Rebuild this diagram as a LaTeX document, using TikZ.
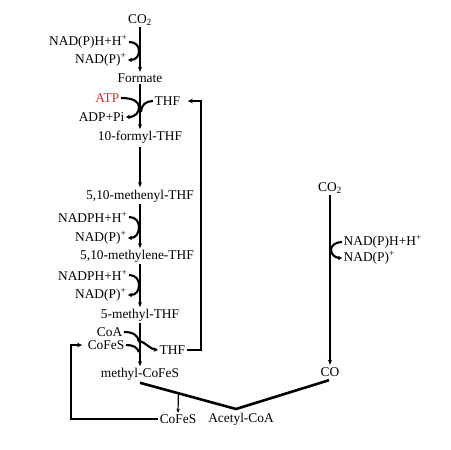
\documentclass[tikz,border=0pt]{standalone}
\usepackage{fontspec}
\setmainfont{Liberation Serif}
\usetikzlibrary{arrows.meta,calc}
\definecolor{atpred}{RGB}{220,40,40}
\begin{document}
\begin{tikzpicture}[x=1pt,y=-1pt,
  lbl/.style={inner sep=1.5pt,font=\fontsize{13.4}{15}\selectfont},
  axis/.style={line width=1.6pt,-{Stealth[length=5pt,width=4pt]}},
  side/.style={line width=2.1pt,-{Stealth[length=4pt,width=4.5pt]}},
  sidein/.style={line width=2.1pt},
  bracket/.style={line width=2.6pt,-{Stealth[length=5pt,width=4.5pt]}},
  thickline/.style={line width=2.6pt}]
\useasboundingbox (0,0) rectangle (451,450);
% left column
\node[lbl] (co2a) at (140,20) {CO\textsubscript{2}};
\node[lbl,anchor=east] (nadph1) at (129,42) {NAD(P)H+H\textsuperscript{+}};
\node[lbl,anchor=east] (nadp1) at (128,60) {NAD(P)\textsuperscript{+}};
\node[lbl] (formate) at (140,78) {Formate};
\node[lbl,anchor=east,text=atpred] (atp) at (121,98) {ATP};
\node[lbl,anchor=west] (thf1) at (153,101) {THF};
\node[lbl,anchor=east] (adp) at (126,117) {ADP+Pi};
\node[lbl] (formyl) at (140,137) {10-formyl-THF};
\node[lbl] (methenyl) at (140,196) {5,10-methenyl-THF};
\node[lbl,anchor=east] (nadph2) at (129,217) {NADPH+H\textsuperscript{+}};
\node[lbl,anchor=east] (nadp2) at (128,238) {NAD(P)\textsuperscript{+}};
\node[lbl] (methylene) at (137,256) {5,10-methylene-THF};
\node[lbl,anchor=east] (nadph3) at (129,275) {NADPH+H\textsuperscript{+}};
\node[lbl,anchor=east] (nadp3) at (128,295) {NAD(P)\textsuperscript{+}};
\node[lbl] (methyl) at (140,315) {5-methyl-THF};
\node[lbl,anchor=east] (coa) at (124,332) {CoA};
\node[lbl,anchor=east] (cofes1) at (126,345) {CoFeS};
\node[lbl,anchor=west] (thf2) at (158,350) {THF};
\node[lbl] (mcofes) at (140,374) {methyl-CoFeS};
\node[lbl] (cofes2) at (178,419) {CoFeS};
\node[lbl] (acoa) at (241,419) {Acetyl-CoA};
% right column
\node[lbl] (co2b) at (330,188) {CO\textsubscript{2}};
\node[lbl,anchor=west] (nadph4) at (342,242) {NAD(P)H+H\textsuperscript{+}};
\node[lbl,anchor=west] (nadp4) at (342,258) {NAD(P)\textsuperscript{+}};
\node[lbl] (co) at (330,372) {CO};
% main axis arrows
\draw[axis] (co2a.south) -- (formate.north);
\draw[axis] (formate.south) -- (formyl.north);
\draw[axis] ([yshift=-2pt]formyl.south) -- ([yshift=1pt]methenyl.north);
\draw[axis] (methenyl.south) -- (methylene.north -| methenyl.south);
\draw[axis] (methylene.south -| methenyl.south) -- (methyl.north);
\draw[axis] (methyl.south) -- (mcofes.north);
\draw[axis] (co2b.south) -- ([yshift=1pt]co.north);
% side curves
\draw[side] (nadph1.east) .. controls (136,42) and (139,46) .. (139,51)
  .. controls (139,56) and (136,60) .. (nadp1.east);
\draw[side] (atp.east) .. controls (134,98) and (139,102) .. (139,107)
  .. controls (139,112) and (136,117) .. (adp.east);
\draw[sidein] (thf1.west) .. controls (146,101) and (141,105) .. (141,112);
\draw[side] (nadph2.east) .. controls (136,217) and (139,222) .. (139,227)
  .. controls (139,233) and (136,238) .. (nadp2.east);
\draw[side] (nadph3.east) .. controls (136,275) and (139,280) .. (139,285)
  .. controls (139,291) and (136,295) .. (nadp3.east);
\draw[side] (nadph4.west) .. controls (335,242) and (331,246) .. (331,250)
  .. controls (331,254) and (335,258) .. (nadp4.west);
\draw[sidein] (coa.east) .. controls (133,332) and (138,335) .. (139,342);
\draw[sidein] (cofes1.east) .. controls (133,345) and (137,347) .. (139,352);
\draw[side] (140,341) .. controls (146,343) and (150,349) .. (thf2.west);
% brackets
\coordinate (br) at (201,220);
\draw[bracket] (thf2.east) -| (br) |- ([xshift=6pt]thf1.east);
\coordinate (fb) at (71,380);
\draw[bracket] (cofes2.west) -| (fb) |- ([xshift=-4pt]cofes1.west);
% acetyl-CoA lines
\coordinate (j) at (236,409);
\draw[thickline,line join=miter] ([yshift=-1pt]mcofes.south) -- (j) -- ([xshift=-1pt,yshift=-2pt]co.south);
\draw[line width=1.2pt,-{Stealth[length=4pt,width=3.5pt]}] ($([yshift=-1pt]mcofes.south)!0.4!(j)$) -- (cofes2.north);
\end{tikzpicture}
\end{document}
